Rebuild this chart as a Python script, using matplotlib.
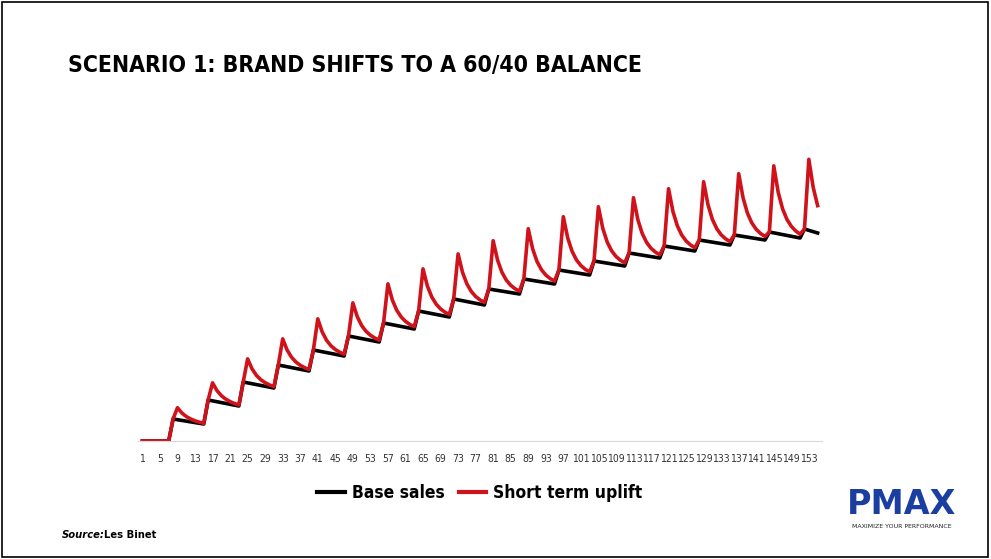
import numpy as np
import matplotlib.pyplot as plt
from matplotlib.lines import Line2D
from matplotlib.patches import Rectangle

COND = dict(family="DejaVu Sans", stretch="condensed")

# per 8-period cycle values (pulse at period 8, 16, ...)
peak_red = [34, 59, 83, 103, 123, 139, 158, 173, 188, 201, 213, 225, 235, 244, 253, 260, 268, 276, 283]
base_hi = [22, 41, 59, 76, 91, 105, 118, 130, 142, 152, 162, 171, 180, 188, 195, 201, 206, 209, 212]
base_lo = [17, 35, 53, 70, 85, 99, 112, 124, 136, 147, 157, 166, 175, 183, 190, 196, 201, 203, 208]
n_periods = 155
tick_labels = list(range(1, 154, 4))

t = np.arange(1, n_periods + 1)
base = np.zeros(n_periods)
red = np.zeros(n_periods)
for k in range(len(peak_red)):
    start = 8 + 8 * k
    end = min(start + 8, n_periods + 1)
    span = end - start
    for p in range(start, end):
        f = (p - start) / max(span - 1, 1)
        b = base_hi[k] + (base_lo[k] - base_hi[k]) * f
        base[p - 1] = b
        if p == start:
            red[p - 1] = b
        else:
            red[p - 1] = b + (peak_red[k] - base_hi[k]) * np.exp(-(p - start - 1) / 2.1)

fig = plt.figure(figsize=(9.91, 5.59), dpi=100, facecolor="white")
fig.patches.append(Rectangle((0.002, 0.003), 0.995, 0.993, transform=fig.transFigure,
                             fill=False, edgecolor="black", linewidth=1.2))

ax = fig.add_axes([138 / 991, 1 - 441 / 559, (822 - 138) / 991, (441 - 130) / 559])
ax.plot(t, base, color="black", linewidth=2.6, solid_joinstyle="round")
ax.plot(t, red, color="#d0121b", linewidth=2.6, solid_joinstyle="round")
ax.set_xlim(0, n_periods + 1)
ax.set_ylim(0, 311)
for s in ["top", "right", "left"]:
    ax.spines[s].set_visible(False)
ax.spines["bottom"].set_color("#d9d9d9")
ax.set_yticks([])
ax.set_xticks(tick_labels)
ax.set_xticklabels([str(v) for v in tick_labels], fontsize=7.5, color="#333333", **COND)
ax.tick_params(axis="x", length=0, pad=9)

fig.text(68 / 991, 1 - 66 / 559, "SCENARIO 1: BRAND SHIFTS TO A 60/40 BALANCE",
         fontsize=16.5, fontweight="bold", va="center", **COND)

handles = [Line2D([], [], color="black", linewidth=3), Line2D([], [], color="#d0121b", linewidth=3)]
fig.legend(handles, ["Base sales", "Short term uplift"], loc="center", bbox_to_anchor=(480 / 991, 1 - 493 / 559),
           ncol=2, frameon=False, handlelength=1.6, columnspacing=0.8, handletextpad=0.4,
           prop={"family": "DejaVu Sans", "stretch": "condensed", "weight": "bold", "size": 12.5})

fig.text(62 / 991, 1 - 535 / 559, "Source:", fontsize=8, fontweight="bold", style="italic", va="center", **COND)
fig.text(104 / 991, 1 - 535 / 559, "Les Binet", fontsize=8, fontweight="bold", va="center", **COND)

fig.text(902 / 991, 1 - 505 / 559, "PMAX", fontsize=24, fontweight="bold", color="#1a3fa0",
         ha="center", va="center", family="DejaVu Sans")
fig.text(902 / 991, 1 - 527 / 559, "MAXIMIZE YOUR PERFORMANCE", fontsize=4.5, color="#222222",
         ha="center", va="center")

fig.savefig("out.png", dpi=100)
